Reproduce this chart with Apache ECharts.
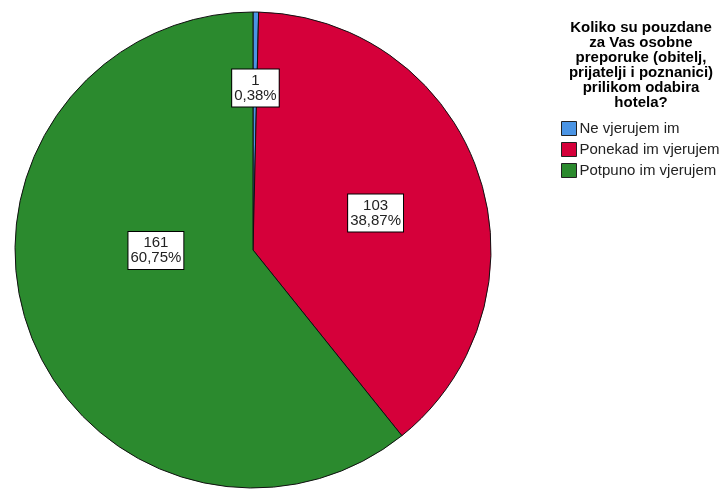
<!DOCTYPE html>
<html>
<head>
<meta charset="utf-8">
<script src="https://cdn.jsdelivr.net/npm/echarts@6/dist/echarts.min.js"></script>
<style>
html,body{margin:0;padding:0;background:#fff;}
#chart{width:722px;height:489px;}
</style>
</head>
<body>
<div id="chart"></div>
<script>
const categories = ['Ne vjerujem im', 'Ponekad im vjerujem', 'Potpuno im vjerujem'];
const counts = [1, 103, 161];
const colors = ['#4a94e4', '#d5003a', '#2b8a2e'];
const titleText = 'Koliko su pouzdane\nza Vas osobne\npreporuke (obitelj,\nprijatelji i poznanici)\nprilikom odabira\nhotela?';

const labelOffsets = [[1, -40], [7, 2], [18, -40]];
const total = counts.reduce((a, b) => a + b, 0);

const chart = echarts.init(document.getElementById('chart'));
chart.setOption({
  animation: false,
  backgroundColor: '#fff',
  color: colors,
  title: {
    text: titleText,
    left: 641,
    top: 20,
    textAlign: 'center',
    padding: 0,
    textStyle: {
      fontFamily: 'Liberation Sans, Arial, sans-serif',
      fontSize: 15,
      fontWeight: 'bold',
      lineHeight: 15,
      color: '#000'
    }
  },
  legend: {
    orient: 'vertical',
    left: 561,
    top: 121,
    padding: 0,
    itemWidth: 15,
    itemHeight: 14,
    itemGap: 6,
    icon: 'rect',
    selectedMode: false,
    itemStyle: { borderColor: '#222', borderWidth: 1 },
    textStyle: {
      fontFamily: 'Liberation Sans, Arial, sans-serif',
      fontSize: 15,
      color: '#222',
      padding: [0, 0, 0, -2]
    },
    data: categories
  },
  series: [{
    type: 'pie',
    center: [253, 250],
    radius: 238,
    startAngle: 90,
    clockwise: true,
    avoidLabelOverlap: false,
    emphasis: { disabled: true },
    itemStyle: { borderColor: '#111', borderWidth: 1 },
    labelLine: { show: false },
    label: {
      show: true,
      position: 'inside',
      fontFamily: 'Liberation Sans, Arial, sans-serif',
      fontSize: 15,
      lineHeight: 15,
      color: '#222',
      backgroundColor: '#fff',
      borderColor: '#000',
      borderWidth: 1,
      padding: [4, 2, 3, 2],
      formatter: function (p) {
        return p.value + '\n' + (p.value / total * 100).toFixed(2).replace('.', ',') + '%';
      }
    },
    data: categories.map((name, i) => ({
      name: name,
      value: counts[i],
      label: { offset: labelOffsets[i] }
    }))
  }]
});
</script>
</body>
</html>
